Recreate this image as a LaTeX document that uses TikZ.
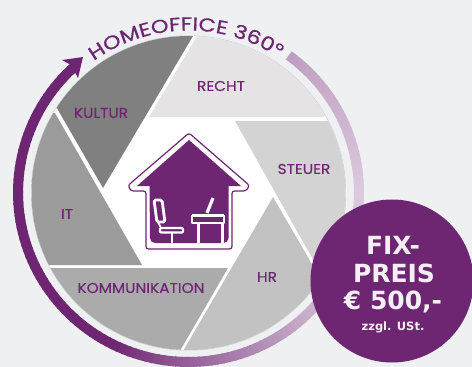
\documentclass[tikz,border=0pt]{standalone}
\usepackage{fontspec}
\usetikzlibrary{decorations.text}
\setmainfont{Poppins}
\newfontfamily\labelfont{Poppins}[FakeStretch=1.08,FakeBold=0.35]
\newfontfamily\titlefont{Poppins}[FakeStretch=1.2,FakeBold=0.8]
\newfontfamily\pricefont{DejaVu Sans}[BoldFont={DejaVu Sans Bold}]
\definecolor{brand}{HTML}{6E2673}
\definecolor{paper}{HTML}{EEF0F2}
\definecolor{pricewhite}{HTML}{F3EFF4}
\definecolor{bladeKultur}{HTML}{808080}
\definecolor{bladeRecht}{HTML}{E5E3E4}
\definecolor{bladeSteuer}{HTML}{D3D3D3}
\definecolor{bladeHr}{HTML}{C2C2C2}
\definecolor{bladeKomm}{HTML}{ABABAB}
\definecolor{bladeIt}{HTML}{9C9B9B}
\tikzset{
  blade label/.style={text=brand,font=\labelfont\fontsize{14.2}{14.2}\selectfont,inner sep=0pt,anchor=center},
  price big/.style={text=pricewhite,font=\pricefont\bfseries\fontsize{25}{25}\selectfont,inner sep=0pt,anchor=center},
  price small/.style={text=pricewhite,font=\pricefont\bfseries\fontsize{11.5}{11.5}\selectfont,inner sep=0pt,anchor=center},
  furniture/.style={draw=white,line width=2.8pt,line join=round},
}
\begin{document}
\begin{tikzpicture}[x=1pt,y=-1pt]
\useasboundingbox (0,0) rectangle (472,367);
\fill[paper] (0,0) rectangle (472,367);
% gradient ring
\foreach \a in {54,52,...,-226}{
  \pgfmathsetmacro{\p}{\a>=0 ? 24+\a*20/53 : (\a>=-45 ? 24-\a*13/45 : (\a>=-90 ? 37+(-\a-45)*37/45 : (\a>=-115 ? 74+(-\a-90)*26/25 : 100)))}
  \pgfmathsetmacro{\b}{\a-2.6}
  \draw[draw=brand!\p!white,line width=10pt]
    ({188.5+170.5*cos(\a)},{192.5-169.5*sin(\a)}) -- ({188.5+170.5*cos(\b)},{192.5-169.5*sin(\b)});
}
% arrow head
\fill[brand] (83,57) -- (62,60) -- (71,65) -- (78,78) -- cycle;
% disc
\fill[white] (188.5,193) circle (157);
\draw[black!22,line width=0.4pt] (188.5,193) circle (157.3);
\begin{scope}
\clip (188.5,193) circle (157);
\fill[bladeKultur] (103,188) -- (193,36) -- (193,0) -- (20,0) -- (20,44) -- cycle;
\fill[bladeRecht] (149,117) -- (197,36) -- (197,0) -- (360,0) -- (360,117) -- cycle;
\fill[bladeSteuer] (235,121) -- (370,121) -- (370,320) -- (347,320) -- cycle;
\fill[bladeHr] (273,197) -- (172,370) -- (360,370) -- (360,347) -- cycle;
\fill[bladeKomm] (51,268) -- (228,268) -- (170,368) -- (20,368) -- (20,268) -- cycle;
\fill[bladeIt] (142,265) -- (55,113) -- (10,113) -- (10,265) -- cycle;
\end{scope}
% curved title
\path[decorate,decoration={text along path,text align=center,
  text={|\titlefont\fontsize{18.8}{18.8}\selectfont\color{brand}|HOMEOFFICE 360°}}]
  plot[domain=135:47,samples=80] ({188.5+162.5*cos(\x)},{193-162.5*sin(\x)});
% house outline
\draw[brand,line width=1.2pt,line join=round,rounded corners=2.5pt]
  (189,133) -- (249.5,185.5) -- (246,191) -- (232,191) -- (232,249) -- (146,249) -- (146,191) -- (131,191) -- (128,185.5) -- cycle;
% house fill
\fill[brand] (189,140) -- (241,186) -- (228.5,186) -- (228.5,238) arc[start angle=0,end angle=-90,radius=5pt] -- (155,243) arc[start angle=-90,end angle=-180,radius=5pt] -- (149.5,186) -- (137,186) -- cycle;
% chair
\draw[furniture,rounded corners=1.5pt] (154,200) -- (162,200) -- (165,222) -- (157,222) -- cycle;
\draw[furniture,line width=2pt] (158,222) -- (161,228);
\draw[furniture,line width=2.2pt,rounded corners=1pt] (160,228) -- (183,228) -- (183,232.5) -- (160,232.5) -- cycle;
\draw[furniture] (172,233) -- (172,243);
% desk
\draw[furniture,line width=3pt] (192,215) -- (224,215);
\draw[furniture,line width=2.2pt] (192,215) -- (192,223) -- (224,223) -- (224,215);
\draw[furniture,line width=3.2pt] (213,198) -- (207,213);
\draw[furniture,line width=3pt] (198,223) -- (198,243);
\draw[furniture,line width=3pt] (222,223) -- (222,243);
% labels
\node[blade label] (recht) at (221,86) {RECHT};
\node[blade label] (kultur) at (101,113) {KULTUR};
\node[blade label] (steuer) at (304,169) {STEUER};
\node[blade label] (it) at (67,214) {IT};
\node[blade label] (komm) at (141,288) {KOMMUNIKATION};
\node[blade label] (hr) at (267,277) {HR};
% price disc
\fill[brand] (392,281) circle (81.5);
\node[price big] (fix) at (393,245) {FIX-};
\node[price big] (preis) at (394,273) {PREIS};
\node[price big] (amount) at (393,302) {€ 500,-};
\node[price small] (zzgl) at (393,327) {zzgl. USt.};
\end{tikzpicture}
\end{document}
